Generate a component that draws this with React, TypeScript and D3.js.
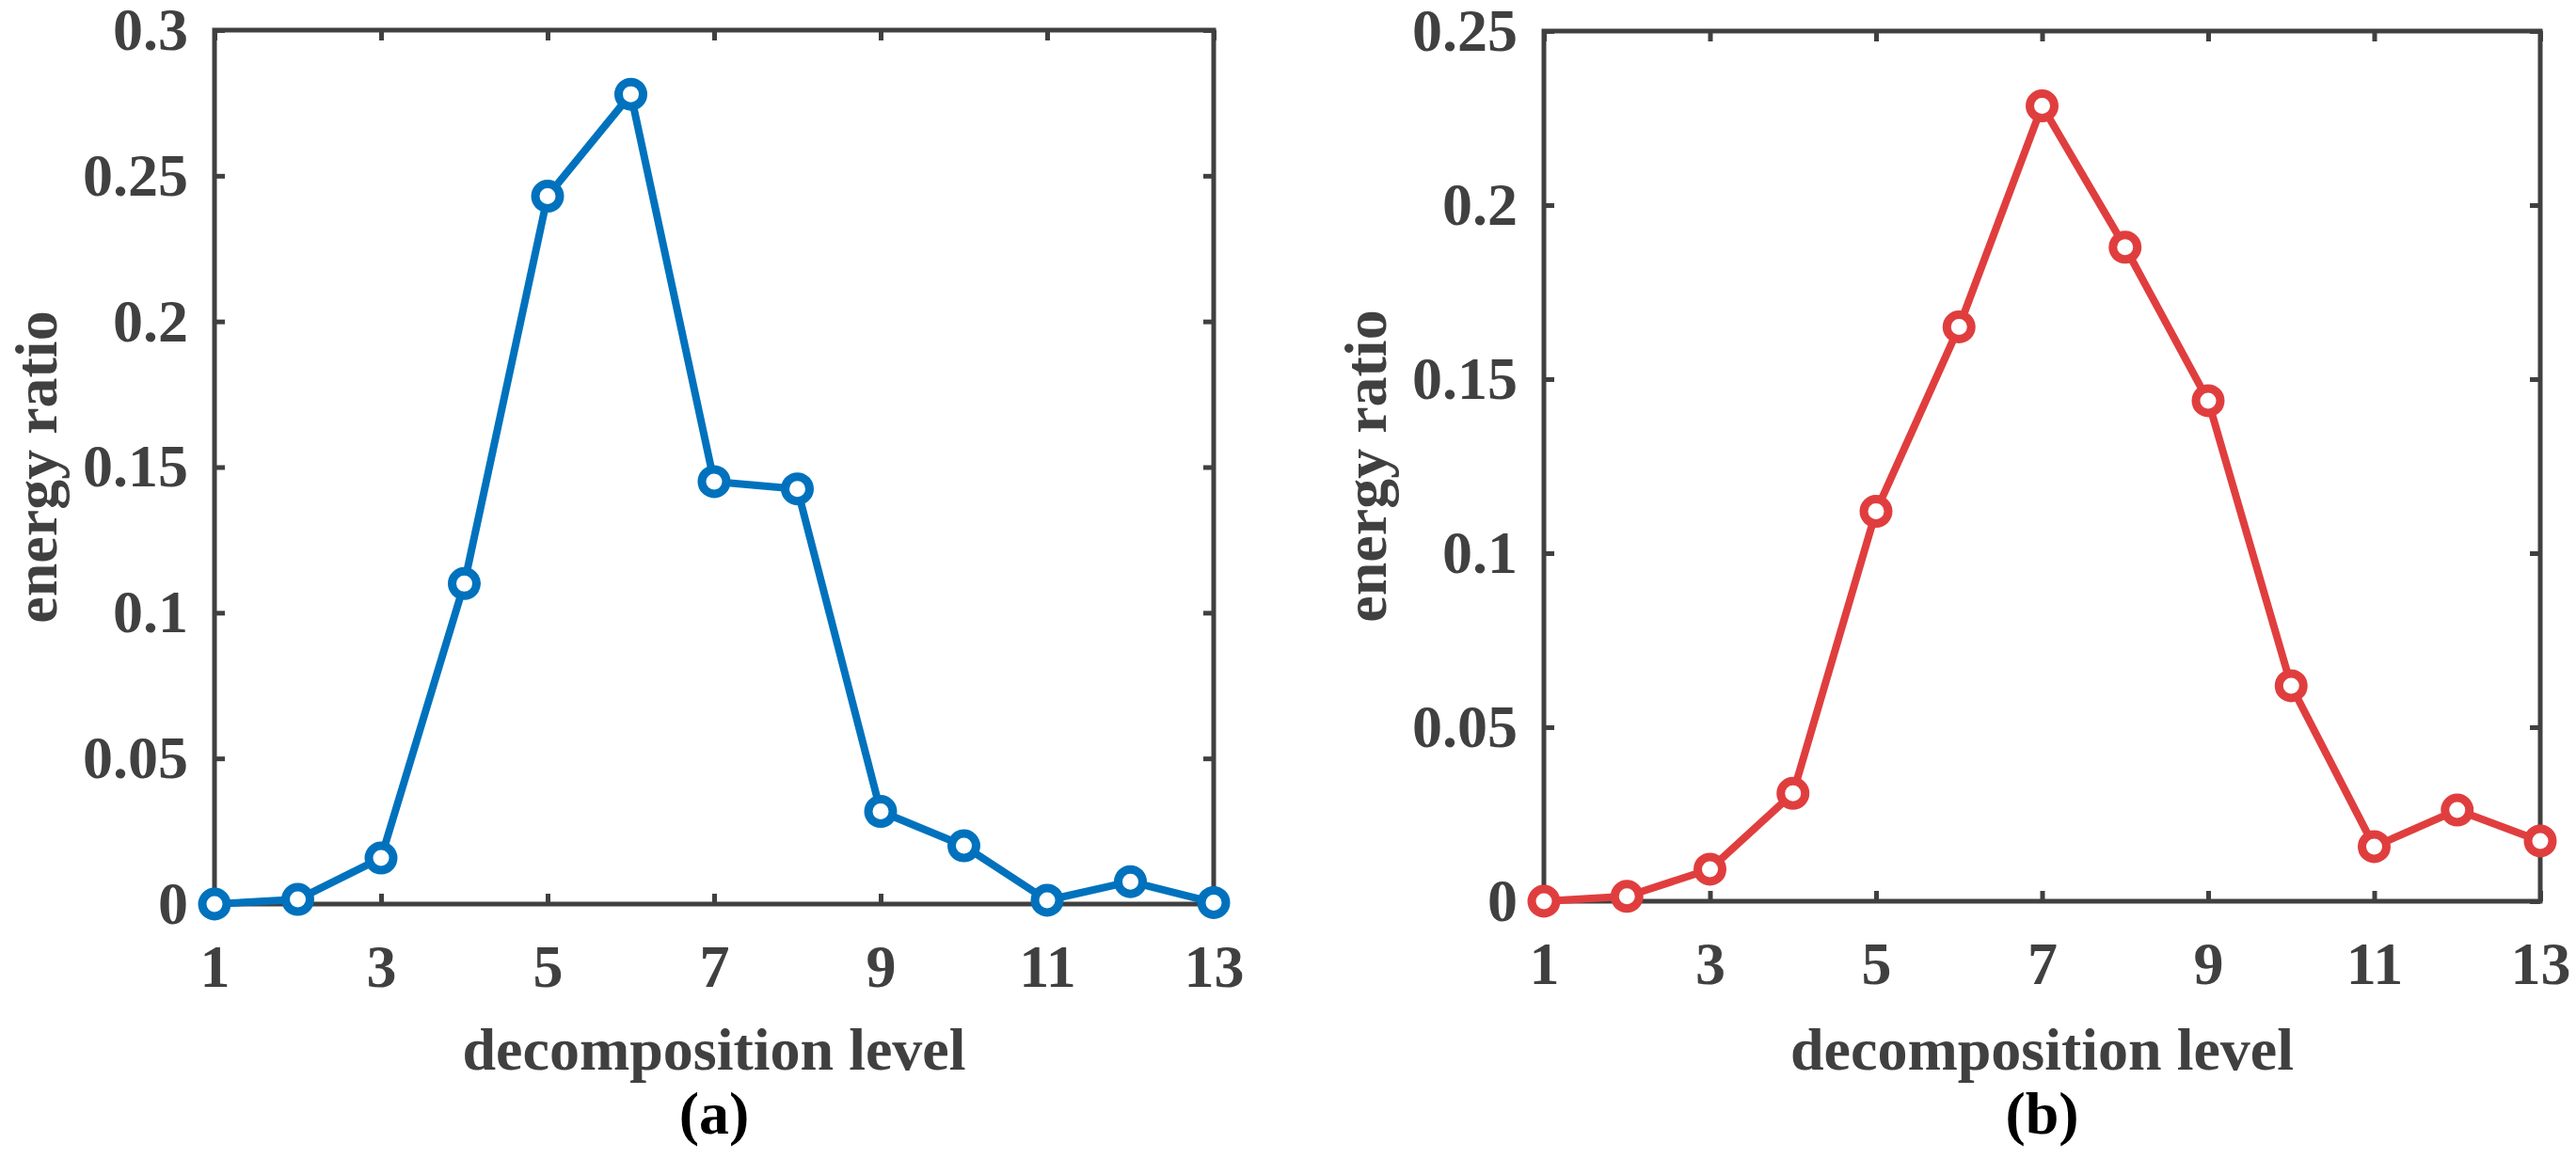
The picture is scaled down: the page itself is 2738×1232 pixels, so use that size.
import React, { useEffect, useRef } from "react";
import * as d3 from "d3";

// decomposition levels shared by both panels
const levels = [1, 2, 3, 4, 5, 6, 7, 8, 9, 10, 11, 12, 13];
const xTicks = [1, 3, 5, 7, 9, 11, 13];

// (a) blue
const ratioA = [0, 0.0016, 0.0158, 0.110, 0.243, 0.278, 0.145, 0.1425, 0.0318, 0.0200, 0.0013, 0.0077, 0.0005];
const yTicksA = [0, 0.05, 0.1, 0.15, 0.2, 0.25, 0.3];

// (b) red
const ratioB = [0, 0.0014, 0.0092, 0.031, 0.112, 0.165, 0.2285, 0.1879, 0.1438, 0.0619, 0.0157, 0.0262, 0.0173];
const yTicksB = [0, 0.05, 0.1, 0.15, 0.2, 0.25];

const AXIS = "#404040";
const FONT = "'Liberation Serif', 'Times New Roman', serif";

const panels = [
  { values: ratioA, yTicks: yTicksA, yMax: 0.3, color: "#0072BD", tag: "(a)", left: 228, right: 1290, top: 32, bottom: 961 },
  { values: ratioB, yTicks: yTicksB, yMax: 0.25, color: "#E03E3E", tag: "(b)", left: 1641, right: 2700, top: 33, bottom: 958 },
];

const App: React.FC = () => {
  const svgRef = useRef<SVGSVGElement | null>(null);

  useEffect(() => {
    document.body.style.margin = "0";
    if (!svgRef.current) return;
    const svg = d3.select(svgRef.current);
    svg.selectAll("*").remove();

    panels.forEach((p) => {
      const x = d3.scaleLinear().domain([1, 13]).range([p.left, p.right]);
      const y = d3.scaleLinear().domain([0, p.yMax]).range([p.bottom, p.top]);
      const g = svg.append("g");

      const style = (sel: d3.Selection<SVGGElement, unknown, null, undefined>) => {
        sel.select(".domain").remove();
        sel.selectAll(".tick line").attr("stroke", AXIS).attr("stroke-width", 5);
        sel
          .selectAll(".tick text")
          .attr("fill", AXIS)
          .style("font-family", FONT)
          .style("font-weight", "bold")
          .style("font-size", "64px");
      };

      // bottom + top
      g.append("g")
        .attr("transform", `translate(0,${p.bottom})`)
        .call(d3.axisBottom(x).tickValues(xTicks).tickSizeInner(-11).tickSizeOuter(0).tickPadding(43).tickFormat((d) => String(d)))
        .call(style);
      g.append("g")
        .attr("transform", `translate(0,${p.top})`)
        .call(d3.axisTop(x).tickValues(xTicks).tickSizeInner(-11).tickSizeOuter(0).tickFormat(() => ""))
        .call(style);
      // left + right
      g.append("g")
        .attr("transform", `translate(${p.left},0)`)
        .call(d3.axisLeft(y).tickValues(p.yTicks).tickSizeInner(-11).tickSizeOuter(0).tickPadding(28).tickFormat((d) => String(d)))
        .call(style);
      g.append("g")
        .attr("transform", `translate(${p.right},0)`)
        .call(d3.axisRight(y).tickValues(p.yTicks).tickSizeInner(-11).tickSizeOuter(0).tickFormat(() => ""))
        .call(style);

      // box
      g.append("rect")
        .attr("x", p.left)
        .attr("y", p.top)
        .attr("width", p.right - p.left)
        .attr("height", p.bottom - p.top)
        .attr("fill", "none")
        .attr("stroke", AXIS)
        .attr("stroke-width", 5);

      const line = d3
        .line<number>()
        .x((_, i) => x(levels[i]))
        .y((d) => y(d));

      g.append("path")
        .datum(p.values)
        .attr("d", line)
        .attr("fill", "none")
        .attr("stroke", p.color)
        .attr("stroke-width", 8)
        .attr("stroke-linejoin", "round");

      g.selectAll(".pt")
        .data(p.values)
        .enter()
        .append("circle")
        .attr("cx", (_, i) => x(levels[i]))
        .attr("cy", (d) => y(d))
        .attr("r", 13)
        .attr("fill", "#fff")
        .attr("stroke", p.color)
        .attr("stroke-width", 9);

      const cx = (p.left + p.right) / 2;
      const cy = (p.top + p.bottom) / 2;

      g.append("text")
        .attr("transform", `translate(${p.left - 168},${cy}) rotate(-90)`)
        .attr("text-anchor", "middle")
        .attr("fill", AXIS)
        .style("font-family", FONT)
        .style("font-weight", "bold")
        .style("font-size", "64px")
        .text("energy ratio");

      g.append("text")
        .attr("x", cx)
        .attr("y", 1137)
        .attr("text-anchor", "middle")
        .attr("fill", AXIS)
        .style("font-family", FONT)
        .style("font-weight", "bold")
        .style("font-size", "64px")
        .text("decomposition level");

      g.append("text")
        .attr("x", cx)
        .attr("y", 1205)
        .attr("text-anchor", "middle")
        .attr("fill", "#000")
        .style("font-family", FONT)
        .style("font-weight", "bold")
        .style("font-size", "64px")
        .text(p.tag);
    });
  }, []);

  return (
    <svg
      ref={svgRef}
      width={2738}
      height={1232}
      style={{ position: "absolute", left: 0, top: 0, background: "#fff" }}
    ></svg>
  );
};

export default App;
